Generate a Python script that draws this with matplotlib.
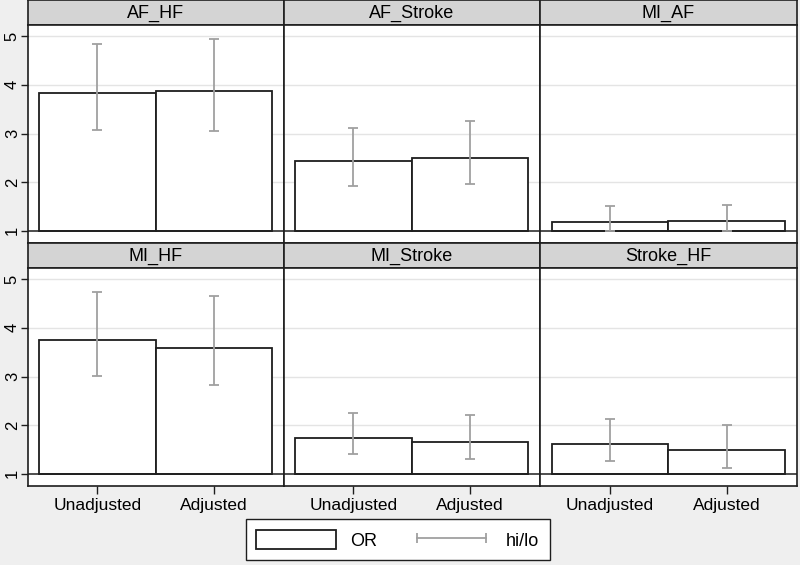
import numpy as np
import matplotlib.pyplot as plt
from matplotlib.patches import Patch
from matplotlib.lines import Line2D

plt.rcParams['font.family'] = ['Liberation Sans', 'DejaVu Sans']

# odds ratios
panels = ['AF_HF', 'AF_Stroke', 'MI_AF', 'MI_HF', 'MI_Stroke', 'Stroke_HF']
groups = ['Unadjusted', 'Adjusted']
or_unadj = [3.83, 2.43, 1.18, 3.76, 1.74, 1.62]
or_adj = [3.87, 2.50, 1.20, 3.58, 1.66, 1.49]
lo_unadj = [3.07, 1.93, 0.99, 3.01, 1.40, 1.26]
hi_unadj = [4.83, 3.11, 1.51, 4.73, 2.26, 2.13]
lo_adj = [3.05, 1.96, 0.99, 2.82, 1.31, 1.12]
hi_adj = [4.95, 3.25, 1.54, 4.65, 2.21, 2.00]
yticks = [1, 2, 3, 4, 5]

W, H = 800, 565
fig = plt.figure(figsize=(W / 100, H / 100), dpi=100, facecolor='#efefef')

col_x = [27.5, 283.5, 540]
col_w = 256.5
row_top = [0, 243]
strip_h = 25
plot_h = 218
fs = 12.5
dark = '#1e1e1e'

for k, name in enumerate(panels):
    r, c = divmod(k, 3)
    x0 = col_x[c]
    # strip
    sax = fig.add_axes([x0 / W, 1 - (row_top[r] + strip_h) / H, col_w / W, strip_h / H],
                       facecolor='#d4d4d4')
    sax.set_xticks([])
    sax.set_yticks([])
    for s in sax.spines.values():
        s.set_color(dark)
        s.set_linewidth(1.2)
    sax.text(0.5, 0.45, name, ha='center', va='center', fontsize=13, transform=sax.transAxes)

    ax = fig.add_axes([x0 / W, 1 - (row_top[r] + strip_h + plot_h) / H, col_w / W, plot_h / H],
                      facecolor='white')
    xs = np.arange(2)
    vals = [or_unadj[k], or_adj[k]]
    lo = [lo_unadj[k], lo_adj[k]]
    hi = [hi_unadj[k], hi_adj[k]]
    for y in yticks[1:]:
        ax.axhline(y, color='#e4e4e4', lw=1.0, zorder=0)
    ax.bar(xs, np.array(vals) - 1, bottom=1, width=1.0, facecolor='white',
           edgecolor=dark, linewidth=1.3, zorder=2)
    ax.axhline(1, color=dark, lw=1.1, zorder=2.5)
    ax.errorbar(xs, [(a + b) / 2 for a, b in zip(lo, hi)],
                yerr=[(b - a) / 2 for a, b in zip(lo, hi)],
                fmt='none', ecolor='#a0a0a0', elinewidth=1.3, capsize=3.5,
                capthick=1.3, zorder=3)
    ax.set_xlim(-0.6, 1.6)
    ax.set_ylim(0.75, 5.23)
    for s in ax.spines.values():
        s.set_color(dark)
        s.set_linewidth(1.2)
    if c == 0:
        ax.set_yticks(yticks)
        ax.set_yticklabels([str(v) for v in yticks], rotation=90, va='center', fontsize=12)
        ax.tick_params(axis='y', length=5, width=1.0, color=dark, pad=0.5)
    else:
        ax.set_yticks([])
    if r == 1:
        ax.set_xticks(xs)
        ax.set_xticklabels(groups, fontsize=fs)
        ax.tick_params(axis='x', length=5.5, width=1.0, color=dark, pad=3)
    else:
        ax.set_xticks([])

handles = [Patch(facecolor='white', edgecolor=dark, linewidth=1.3),
           Line2D([], [], color='#a0a0a0', lw=1.3, marker='|', markersize=7,
                  markeredgewidth=1.3)]
leg = fig.legend(handles, ['OR', 'hi/lo'], loc='lower center', ncol=2,
                 bbox_to_anchor=(397.5 / W, 1.0 / H), fontsize=13, numpoints=2,
                 handlelength=4.4, handleheight=1.2, handletextpad=0.8,
                 columnspacing=1.9, borderpad=0.6, borderaxespad=0.2, fancybox=False,
                 frameon=True, framealpha=1)
leg.get_frame().set_edgecolor(dark)
leg.get_frame().set_linewidth(1.0)

fig.savefig('out.png', dpi=100, facecolor=fig.get_facecolor())
